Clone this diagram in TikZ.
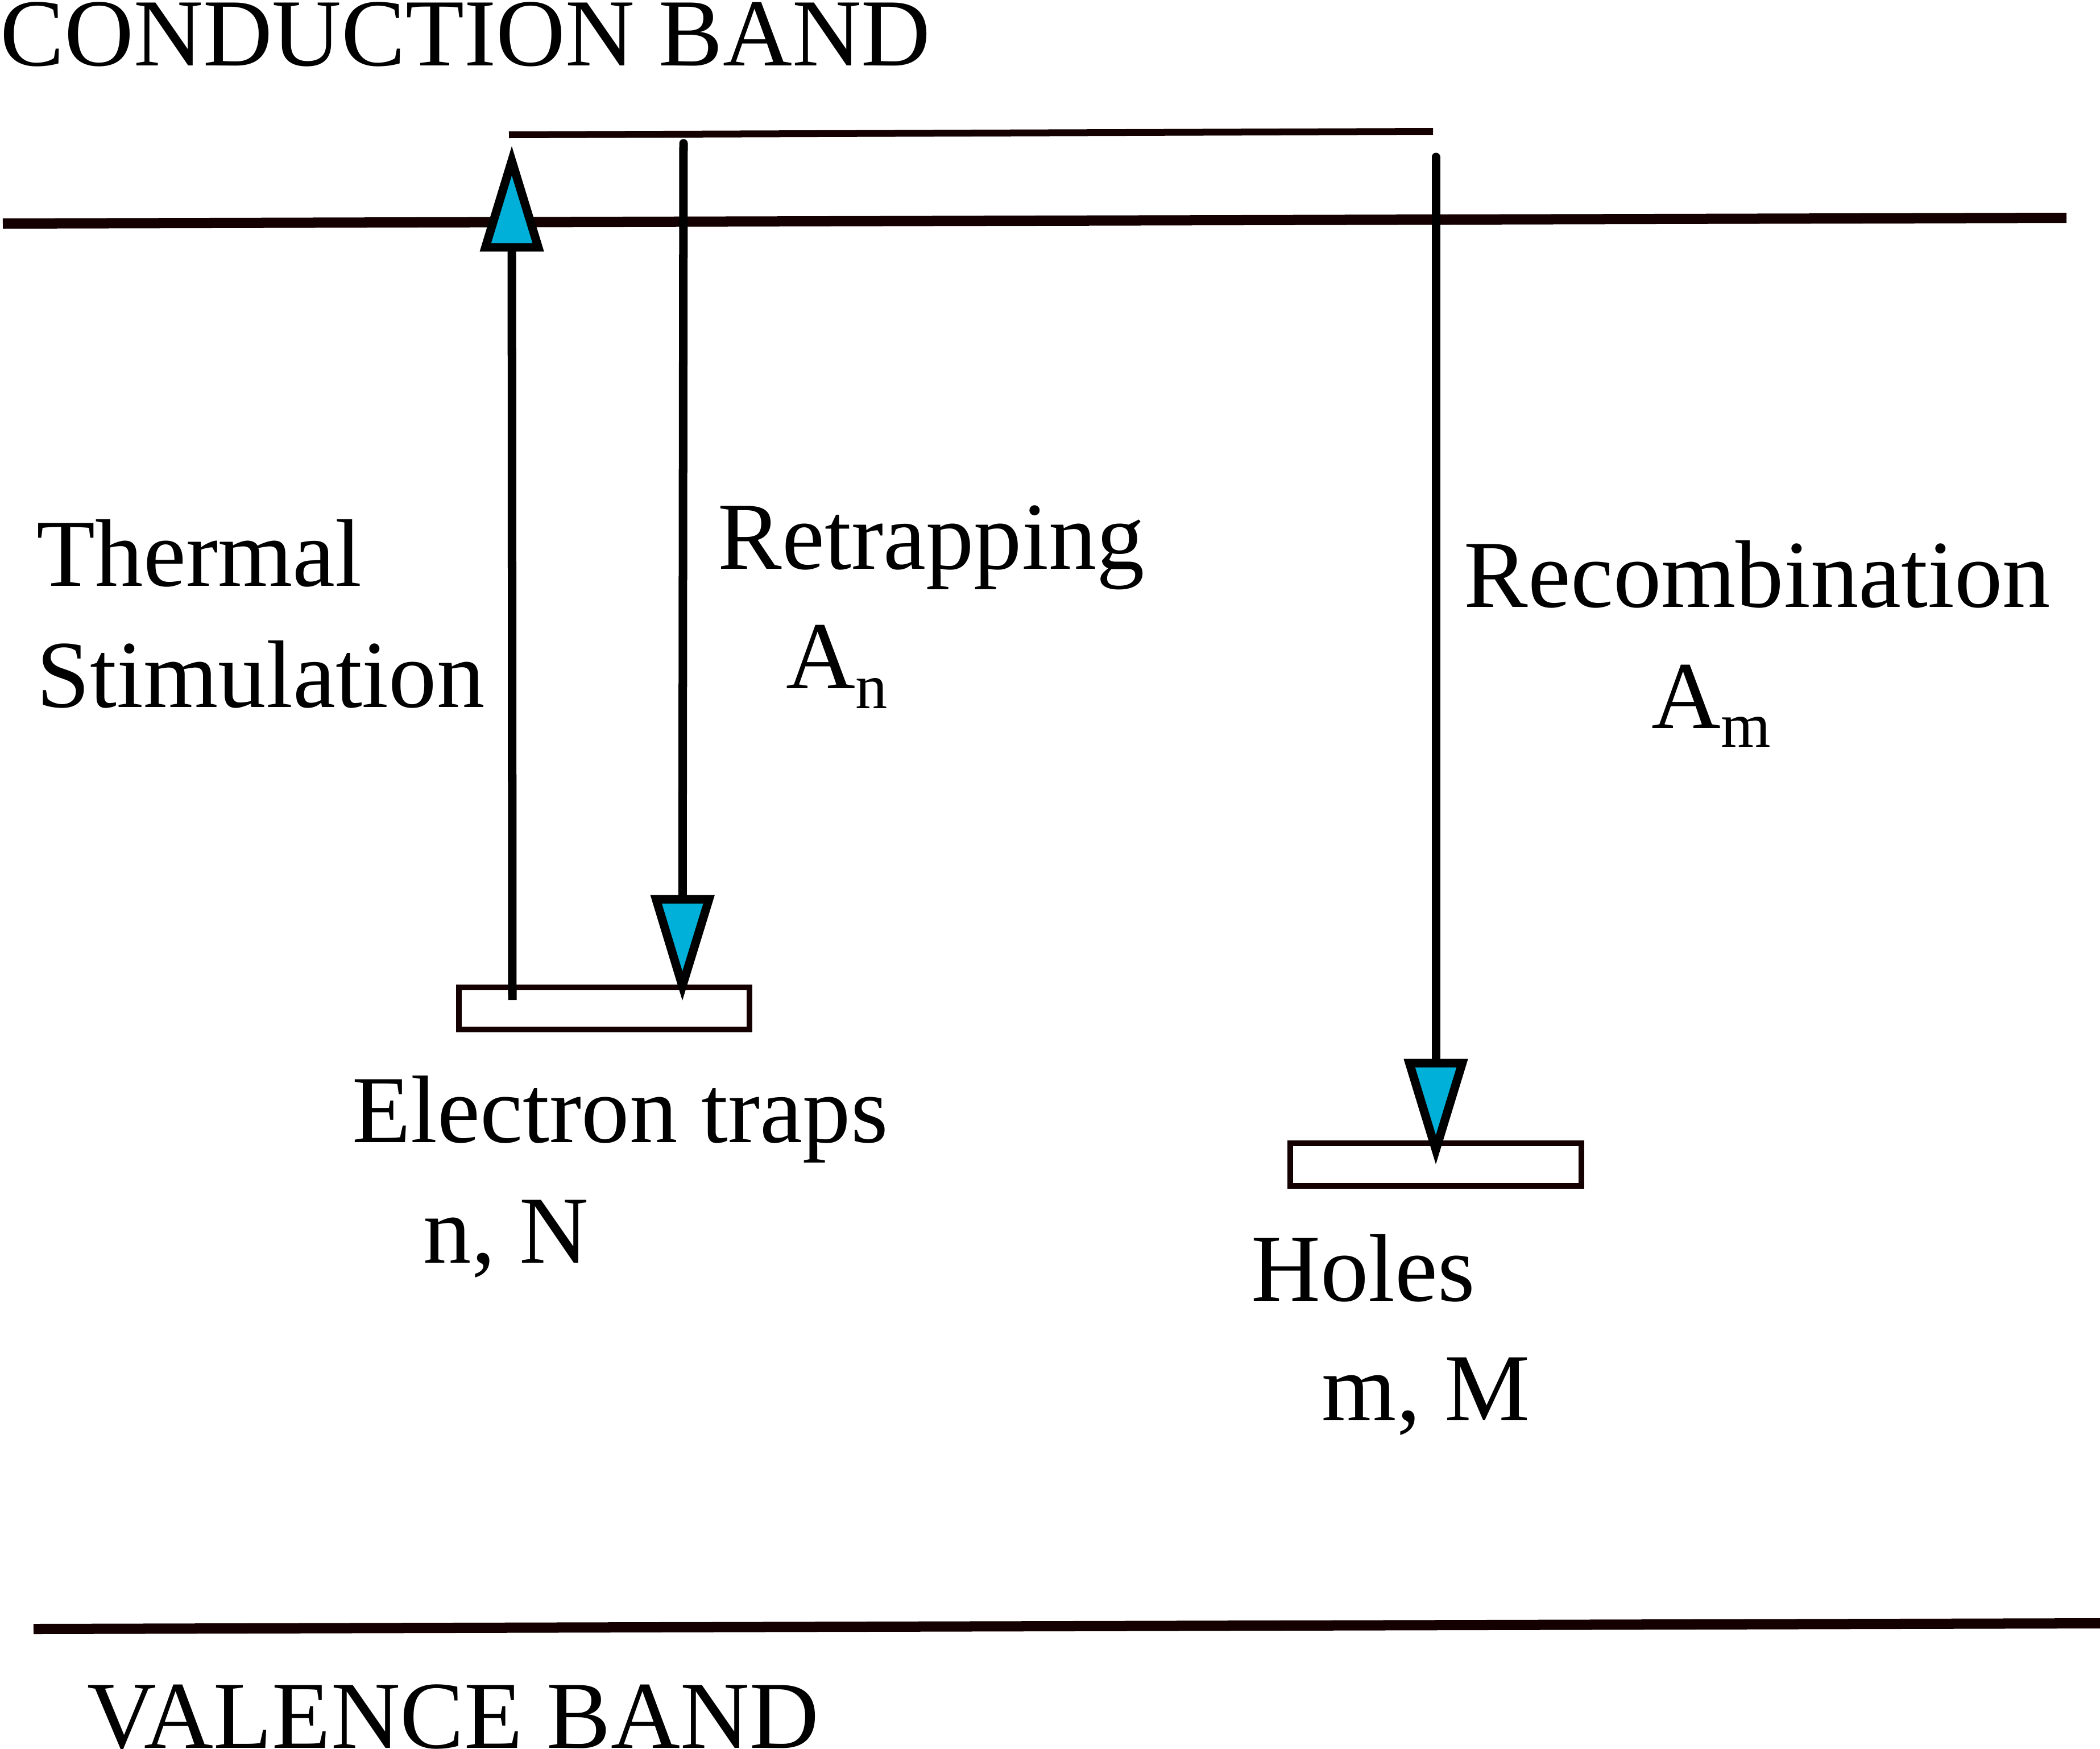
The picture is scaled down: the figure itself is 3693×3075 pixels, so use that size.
\documentclass[tikz,border=0pt]{standalone}
\usepackage{fontspec}
\setmainfont{Liberation Serif}
\usetikzlibrary{arrows.meta}
\definecolor{bandcol}{RGB}{20,0,0}
\definecolor{tipfill}{RGB}{0,176,217}
\begin{document}
\begin{tikzpicture}[x=0.01cm,y=-0.01cm,
  lbl/.style={anchor=base west, inner sep=0pt, font=\fontsize{48}{60}\selectfont},
  band/.style={draw=bandcol, line width=0.18cm},
  level/.style={draw=bandcol, line width=0.12cm},
  trapbox/.style={draw=bandcol, line width=0.095cm, fill=white, inner sep=0pt},
  flow/.style={draw=black, line width=0.15cm,
    -{Triangle[length=53pt, width=31pt, fill=tipfill]}},
]
\useasboundingbox (0,0) rectangle (3693,3075);

% bands and level
\coordinate (cbL) at (5,393);   \coordinate (cbR) at (3634,383);
\coordinate (lvL) at (895,237); \coordinate (lvR) at (2520,231);
\coordinate (vbL) at (59,2864); \coordinate (vbR) at (3693,2854);
\draw[band] (cbL) -- (cbR);
\draw[level] (lvL) -- (lvR);
\draw[band] (vbL) -- (vbR);

% traps
\node[trapbox, minimum width=5.11cm, minimum height=0.74cm] (etrap) at (1062.5,1773) {};
\node[trapbox, minimum width=5.12cm, minimum height=0.75cm] (htrap) at (2525,2047.5) {};

% transitions
\coordinate (thBot) at (901,1758);  \coordinate (thTop) at (900,256);
\coordinate (reTop) at (1202,252);  \coordinate (reTip) at (1200,1760);
\coordinate (rcTop) at (2525,276);  \coordinate (rcTip) at (2525,2048);
\draw[flow] (thBot) -- (thTop);
\draw[flow, line cap=round] (reTop) -- (reTip);
\draw[flow, line cap=round] (rcTop) -- (rcTip);

% labels
\node[lbl] (cb) at (0,115) {CONDUCTION BAND};
\node[lbl] (vb) at (153,3073) {VALENCE BAND};
\node[lbl] (th1) at (64,1030) {Thermal};
\node[lbl] (th2) at (64,1243) {Stimulation};
\node[lbl] (ret) at (1262,1000) {Retrapping};
\node[lbl] (an) at (1382,1210) {A\raisebox{-10pt}{\fontsize{32}{32}\selectfont n}};
\node[lbl] (rec) at (2574,1067) {Recombination};
\node[lbl] (am) at (2904,1280) {A\raisebox{-9.4pt}{\fontsize{32}{32}\selectfont m}};
\node[lbl] (etl) at (619,2008) {Electron traps};
\node[lbl] (nN) at (744,2220) {n, N};
\node[lbl] (hol) at (2200,2287) {Holes};
\node[lbl] (mM) at (2324,2497) {m, M};
\end{tikzpicture}
\end{document}
